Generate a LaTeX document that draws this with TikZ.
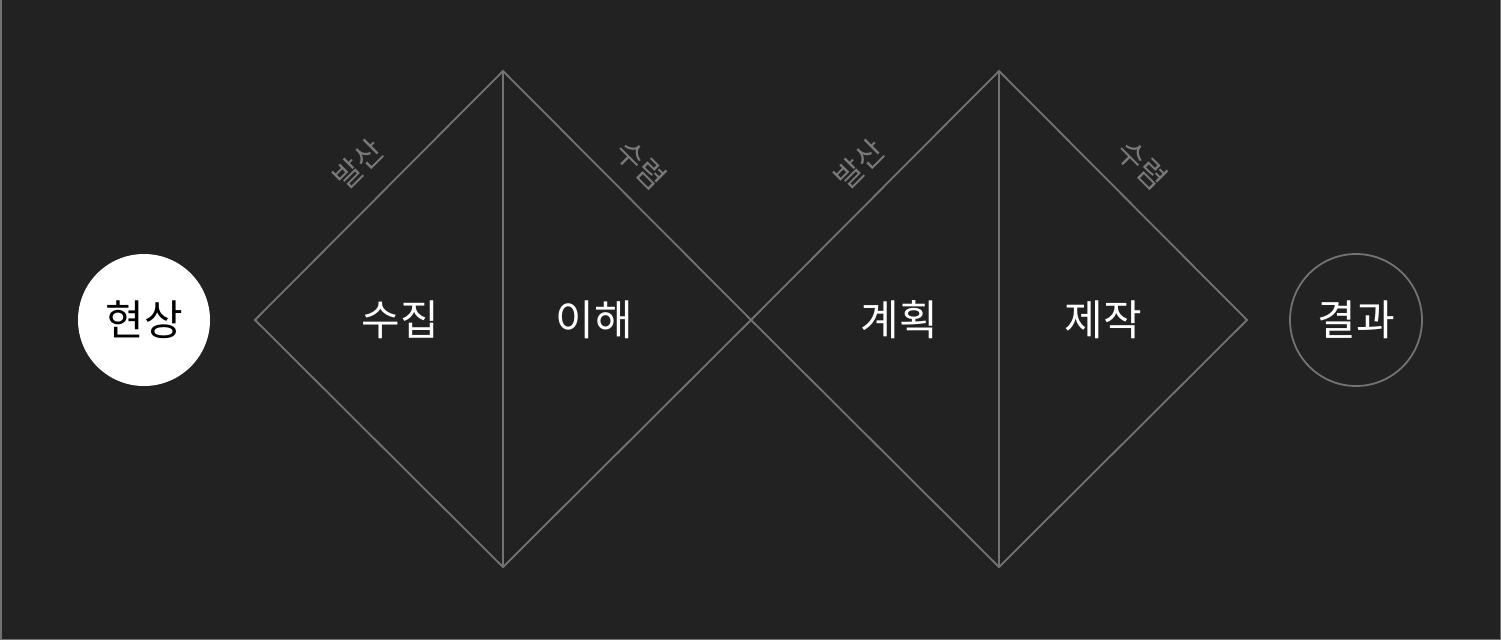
\documentclass[tikz,border=0pt]{standalone}
\usepackage{fontspec}
\setmainfont{Noto Sans CJK KR}
\definecolor{bg}{HTML}{222222}
\definecolor{ln}{HTML}{727272}
\definecolor{lbl}{HTML}{7a7a7a}
\tikzset{
  edge/.style={draw=ln, line width=1.8pt},
  mainlbl/.style={text=white, font=\fontsize{42}{44}\selectfont, inner sep=0pt},
  sidelbl/.style={text=lbl, font=\fontsize{30}{32}\selectfont, inner sep=0pt},
  startcirc/.style={circle, fill=white, minimum size=132pt, inner sep=0pt, text=black, font=\fontsize{42}{44}\selectfont},
  endcirc/.style={circle, draw=ln, line width=1.8pt, minimum size=132pt, inner sep=0pt, text=white, font=\fontsize{42}{44}\selectfont}
}
\begin{document}
\begin{tikzpicture}[x=1pt,y=-1pt]
\fill[bg] (0,0) rectangle (1501,640);
\useasboundingbox (0,0) rectangle (1501,640);
\draw[ln, line width=1.5pt] (0.75,0) -- (0.75,639.25) -- (1500.25,639.25) -- (1500.25,0);
% diamonds
\coordinate (l1) at (255,320);
\coordinate (t1) at (503,71);
\coordinate (b1) at (503,567);
\coordinate (m) at (751,320);
\coordinate (t2) at (999,71);
\coordinate (b2) at (999,567);
\coordinate (r2) at (1247,320);
\draw[edge] (l1) -- (t1) -- (m) -- (b1) -- cycle;
\draw[edge] (t1) -- (b1);
\draw[edge] (m) -- (t2) -- (r2) -- (b2) -- cycle;
\draw[edge] (t2) -- (b2);
% circles
\node[startcirc] (start) at (144,320) {현상};
\node[endcirc] (end) at (1356,320) {결과};
% main labels
\node[mainlbl] (a1) at (400,320) {수집};
\node[mainlbl] (a2) at (594,320) {이해};
\node[mainlbl] (a3) at (899,320) {계획};
\node[mainlbl] (a4) at (1103,320) {제작};
% side labels
\node[sidelbl, rotate=45] (s1) at (358,164) {발산};
\node[sidelbl, rotate=-45] (s2) at (641,165) {수렴};
\node[sidelbl, rotate=45] (s3) at (859,164) {발산};
\node[sidelbl, rotate=-45] (s4) at (1142,165) {수렴};
\end{tikzpicture}
\end{document}
